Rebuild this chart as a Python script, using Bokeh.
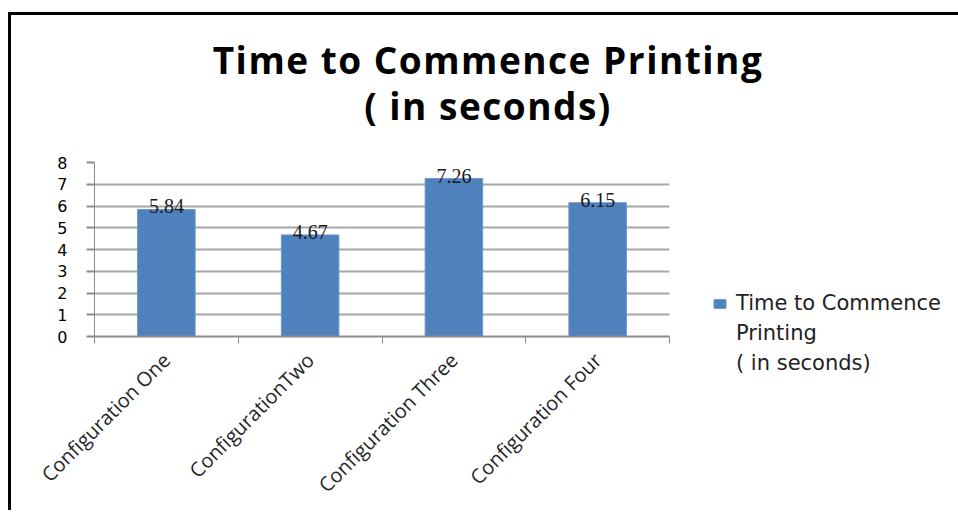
import math
from bokeh.plotting import figure
from bokeh.layouts import column
from bokeh.models import (Range1d, LinearAxis, FixedTicker, Legend, LegendItem, Div,
                          ColumnDataSource, Grid)
from bokeh.embed import file_html
from bokeh.resources import INLINE
from bokeh.core.properties import value

categories = ["Configuration One", "ConfigurationTwo", "Configuration Three", "Configuration Four"]
times = [5.84, 4.67, 7.26, 6.15]
y_ticks = [0, 1, 2, 3, 4, 5, 6, 7, 8]
title_lines = ["Time to Commence Printing", "( in seconds)"]
series_lines = ["Time to Commence", "Printing", "( in seconds)"]

pos = list(range(len(categories)))
edges = [i - 0.5 for i in range(len(categories) + 1)]
src = ColumnDataSource(dict(x=pos, t=times, lbl=[f"{v:.2f}" for v in times]))

GRAY = "#8c8c8c"

title_div = Div(text="<div style='position:relative; left:8px'>" + "<br>".join(title_lines) + "</div>",
                width=938, height=130, margin=0,
                styles={"font-family": "'Open Sans'", "font-weight": "bold", "font-size": "37px",
                        "letter-spacing": "1.5px",
                        "line-height": "46px", "text-align": "center", "color": "#000000",
                        "padding-top": "22px", "box-sizing": "border-box"})

p = figure(frame_width=575, frame_height=174,
           x_range=Range1d(-0.5, len(categories) - 0.5), y_range=Range1d(0, 8),
           output_backend="svg", toolbar_location=None,
           x_axis_location=None, y_axis_location=None, margin=0,
           min_border_left=83, min_border_right=280, min_border_top=17, min_border_bottom=170)
p.outline_line_color = None
p.background_fill_color = "white"
p.border_fill_color = "white"
p.xgrid.visible = False

# y axis + grid
y_axis = LinearAxis(ticker=FixedTicker(ticks=y_ticks), major_tick_out=8, major_tick_in=0,
                    minor_tick_out=0, minor_tick_in=0, axis_line_color=GRAY,
                    major_tick_line_color=GRAY, major_tick_line_width=2,
                    major_label_standoff=19, major_label_text_font="DejaVu Sans",
                    major_label_text_font_size="16px", major_label_text_color="#000000")
p.add_layout(y_axis, "left")
p.add_layout(Grid(dimension=1, ticker=y_axis.ticker, grid_line_color="#a6a6a6", grid_line_width=2))

x_axis = LinearAxis(ticker=FixedTicker(ticks=pos, minor_ticks=edges),
                    major_tick_out=0, major_tick_in=0, minor_tick_out=7, minor_tick_in=0,
                    minor_tick_line_color=GRAY, axis_line_color=GRAY, axis_line_width=2,
                    major_label_overrides={i: c for i, c in zip(pos, categories)},
                    major_label_orientation=math.pi / 4, major_label_standoff=13,
                    major_label_text_font="Open Sans", major_label_text_font_size="20px",
                    major_label_text_color="#262626")
p.add_layout(x_axis, "below")

bars = p.vbar(x="x", top="t", width=0.4, source=src, fill_color="#4f81bd", line_color="#6a96cc",
              line_width=1)
p.text(x="x", y="t", text="lbl", source=src, text_align="center", text_baseline="alphabetic",
       y_offset=-3, text_font=value("Liberation Serif"), text_font_size="20px", text_color="#1a1a1a")

# invisible helpers so the legend text wraps over three rows
blank = ColumnDataSource(dict(x=[], t=[]))
dummies = [p.vbar(x="x", top="t", width=0.4, source=blank, fill_alpha=0, line_alpha=0)
           for _ in series_lines[1:]]

items = [LegendItem(label=series_lines[0], renderers=[bars])] + \
        [LegendItem(label=s, renderers=[d]) for s, d in zip(series_lines[1:], dummies)]
legend = Legend(items=items, location=(43, -39),
                padding=0, margin=0, spacing=6, border_line_color=None, background_fill_alpha=0,
                glyph_width=15, glyph_height=11, label_standoff=9, label_height=24,
                label_text_font="DejaVu Sans", label_text_font_size="21px", label_text_color="#222222")
p.add_layout(legend, "right")

layout = column(title_div, p, spacing=0,
                styles={"border-left": "3px solid #000", "border-top": "3px solid #000",
                        "margin-top": "12px", "margin-left": "8px"})

open("out.html", "w").write(file_html(layout, INLINE))
